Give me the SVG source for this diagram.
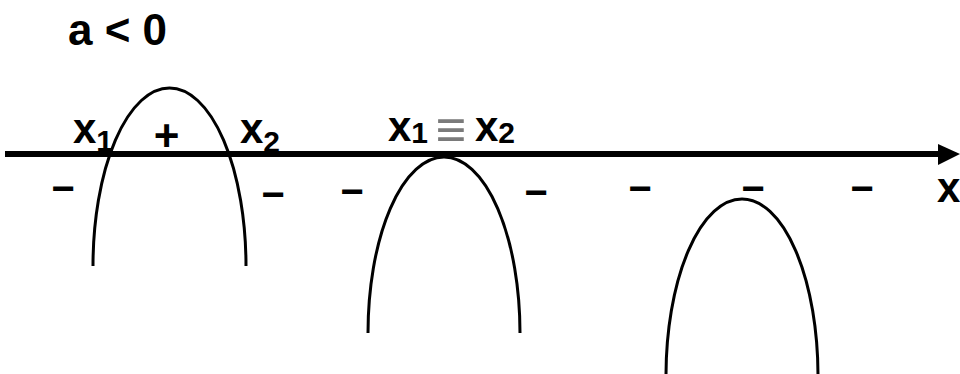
<svg xmlns="http://www.w3.org/2000/svg" width="960" height="374" viewBox="0 0 960 374">
<style>
.t{font-family:"Liberation Sans",Arial,sans-serif;font-weight:bold;fill:#000}
.s{font-size:30px}
.m{font-family:"Liberation Sans",Arial,sans-serif;font-size:40px;font-weight:bold;fill:#000;text-anchor:middle}
.c{fill:none;stroke:#000;stroke-width:3}
</style>
<rect width="960" height="374" fill="#fff"/>
<text class="t" x="68" y="45" font-size="44">a &lt; 0</text>
<g id="connectors">
<line x1="5" y1="154" x2="942" y2="154" stroke="#000" stroke-width="6"/>
<polygon points="938,144 960,154 938,165" fill="#000"/>
</g>
<g id="parabola1">
<path class="c" d="M93,266 A76.5,178 0 0 1 246,266"/>
<text class="t" x="73" y="143" font-size="42">x<tspan class="s" dy="8">1</tspan></text>
<text class="t" x="166.5" y="151" font-size="44" text-anchor="middle">+</text>
<text class="t" x="240" y="143" font-size="42">x<tspan class="s" dy="9">2</tspan></text>
<text class="m" x="63" y="202">−</text>
<text class="m" x="273" y="208">−</text>
</g>
<g id="parabola2">
<path class="c" d="M368,333 A76,176 0 0 1 520,333"/>
<text class="t" x="388" y="141" font-size="42">x<tspan class="s" dy="2">1</tspan></text>
<text transform="translate(451,147) scale(1.55,1.5)" x="0" y="0" font-family="Liberation Sans,Arial,sans-serif" font-size="34" font-weight="bold" fill="#7a7a7a" text-anchor="middle">≡</text>
<text class="t" x="475" y="141" font-size="42">x<tspan class="s" dy="2">2</tspan></text>
<text class="m" x="352" y="205">−</text>
<text class="m" x="536" y="206">−</text>
</g>
<g id="parabola3">
<path class="c" d="M666,376 A76,177 0 0 1 818,376"/>
<text class="m" x="640" y="202">−</text>
<text class="m" x="753" y="202">−</text>
<text class="m" x="862" y="202">−</text>
</g>
<text class="t" x="937" y="202" font-size="42">x</text>
</svg>
